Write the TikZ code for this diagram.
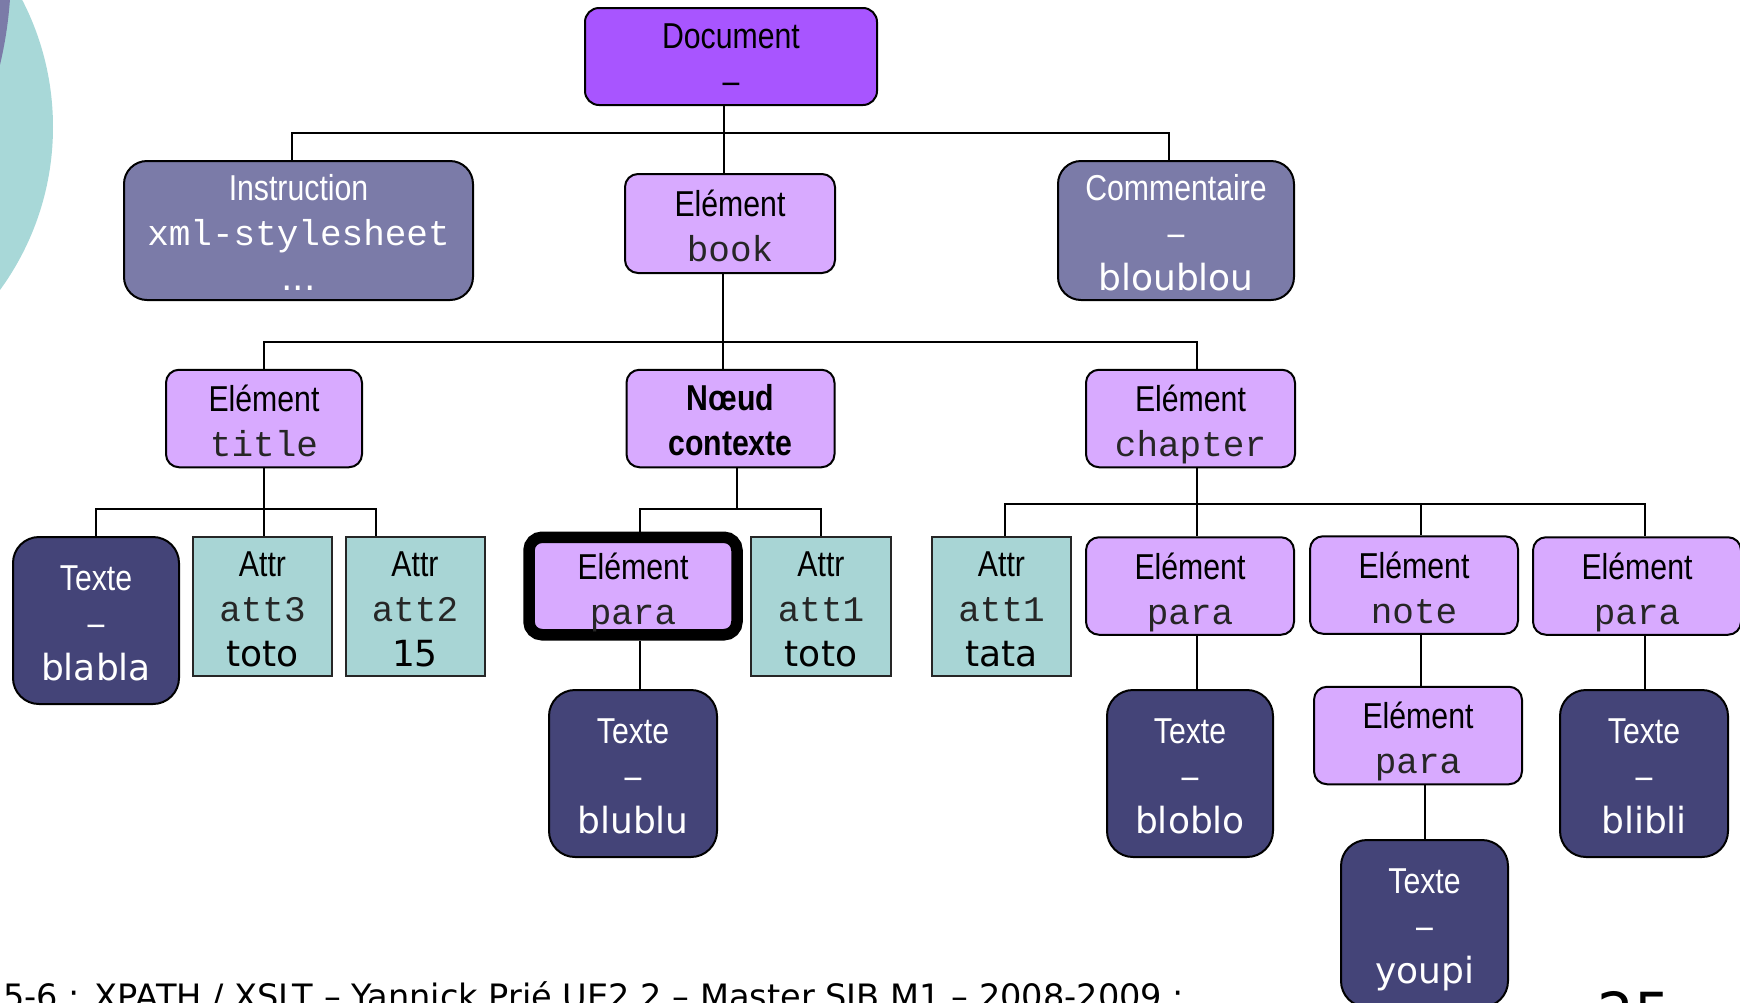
\documentclass[tikz,border=0pt]{standalone}
\usepackage{fontspec}
\setmainfont{DejaVu Sans}
\newfontfamily\nar[FakeStretch=0.84]{Liberation Sans}
\newfontfamily\mon{Liberation Mono}
\newfontfamily\ver{DejaVu Sans}
\definecolor{docc}{RGB}{168,85,255}
\definecolor{elemc}{RGB}{216,170,255}
\definecolor{insc}{RGB}{123,123,168}
\definecolor{txtc}{RGB}{68,68,120}
\definecolor{attrc}{RGB}{168,213,213}
\definecolor{tealc}{RGB}{168,216,216}
\begin{document}
\begin{tikzpicture}[x=0.5pt,y=-0.5pt,
  box/.style={draw=black, line width=1pt, inner sep=0pt, align=center, text depth=0pt,
    font=\fontsize{18}{22.5}\selectfont\nar},
  docbox/.style={box, fill=docc, rounded corners=7pt, minimum width=146pt, minimum height=48.5pt, text height=36.5pt},
  elem/.style={box, fill=elemc, rounded corners=6.5pt, minimum width=104pt, minimum height=48.75pt, text height=38pt},
  insbox/.style={box, fill=insc, text=white, rounded corners=11.5pt, minimum height=69.5pt, text height=59.5pt},
  txt/.style={box, fill=txtc, text=white, rounded corners=13pt, minimum width=83.5pt, minimum height=83.5pt, text height=59.5pt},
  attr/.style={box, fill=attrc, draw=black!85, minimum width=69.5pt, minimum height=69.5pt, text height=59.5pt},
  conn/.style={draw=black, line width=1pt}]
\useasboundingbox (0,0) rectangle (1740,1002);
\clip (0,0) rectangle (1740,1002);
% decoration
\fill[tealc] (-224,127) circle[radius=277];
\fill[insc] (-400,-30) circle[radius=411];
% level 0 / 1
\node[docbox] (doc) at (731,56.5) {Document\\–};
\node[insbox, minimum width=174.5pt] (instr) at (298.5,230.5) {Instruction\\{\mon xml-stylesheet}\\{\ver ...}};
\node[elem, minimum width=105pt, minimum height=49.5pt, text height=37.5pt] (book) at (730,223.5) {Elément\\{\color{black!85}\mon book}};
\node[insbox, minimum width=118pt] (comm) at (1176,230.5) {Commentaire\\–\\{\ver bloublou}};
% level 2
\node[elem, minimum width=98pt] (title) at (264,418.5) {Elément\\{\color{black!85}\mon title}};
\node[elem, text height=36.5pt, font=\fontsize{18}{22.5}\selectfont\nar\bfseries] (ctx) at (730.5,418.5) {Nœud\\contexte};
\node[elem, minimum width=104.5pt] (chap) at (1190.5,418.5) {Elément\\{\color{black!85}\mon chapter}};
% level 3
\node[txt, minimum width=83pt] (blabla) at (96,620.5) {Texte\\–\\{\ver blabla}};
\node[attr] (att3) at (262.5,606.5) {Attr\\{\color{black!85}\mon att3}\\{\ver toto}};
\node[attr] (att2) at (415,606.5) {Attr\\{\color{black!85}\mon att2}\\{\ver 15}};
\node[elem, line width=5.75pt] (para1) at (633,586) {Elément\\{\color{black!85}\mon para}};
\node[attr, minimum width=70pt] (att1a) at (821,606.5) {Attr\\{\color{black!85}\mon att1}\\{\ver toto}};
\node[attr] (tata) at (1001.5,606.5) {Attr\\{\color{black!85}\mon att1}\\{\ver tata}};
\node[elem] (para2) at (1190,586) {Elément\\{\color{black!85}\mon para}};
\node[elem] (note) at (1414,585) {Elément\\{\color{black!85}\mon note}};
\node[elem] (para3) at (1637,586) {Elément\\{\color{black!85}\mon para}};
% level 4
\node[txt, minimum width=84pt] (blublu) at (633,773.5) {Texte\\–\\{\ver blublu}};
\node[txt, minimum width=83pt] (bloblo) at (1190,773.5) {Texte\\–\\{\ver bloblo}};
\node[elem] (para4) at (1418,735.5) {Elément\\{\color{black!85}\mon para}};
\node[txt, minimum width=84pt] (blibli) at (1644,773.5) {Texte\\–\\{\ver blibli}};
\node[txt] (youpi) at (1424.5,923.5) {Texte\\–\\{\ver youpi}};
% footer
\node[anchor=base west, inner sep=0pt, font=\fontsize{16.8}{18}\selectfont\ver] (foot) at (3,1008)
  {5-6 : XPATH / XSLT – Yannick Prié UE2.2 – Master SIB M1 – 2008-2009 :};
\node[anchor=base west, inner sep=0pt, font=\fontsize{29}{31}\selectfont\ver] (pnum) at (1597,1034) {25};
% connectors
\coordinate (a0) at (723.5,133);
\coordinate (ai) at (292,133);
\coordinate (ac) at (1169,133);
\draw[conn] (doc.south -| a0) -- (book.north -| a0);
\draw[conn] (instr.north -| ai) -- (ai) -- (ac) -- (comm.north -| ac);
\coordinate (b0) at (723,342);
\coordinate (bt) at (264,342);
\coordinate (bc) at (1197,342);
\draw[conn] (book.south -| b0) -- (ctx.north -| b0);
\draw[conn] (title.north -| bt) -- (bt) -- (bc) -- (chap.north -| bc);
\coordinate (c0) at (264,509);
\coordinate (c1) at (96,509);
\coordinate (c2) at (376,509);
\draw[conn] (title.south -| c0) -- (att3.north -| c0);
\draw[conn] (blabla.north -| c1) -- (c1) -- (c2) -- (att2.north -| c2);
\coordinate (d0) at (737,509);
\coordinate (d1) at (640,509);
\coordinate (d2) at (821,509);
\draw[conn] (ctx.south -| d0) -- (d0);
\draw[conn] (para1.north -| d1) -- (d1) -- (d2) -- (att1a.north -| d2);
\draw[conn] (para1.south -| d1) -- (blublu.north -| d1);
\coordinate (e0) at (1197,504);
\coordinate (e1) at (1005,504);
\coordinate (e3) at (1421,504);
\coordinate (e4) at (1645,504);
\draw[conn] (chap.south -| e0) -- (para2.north -| e0);
\draw[conn] (tata.north -| e1) -- (e1) -- (e4) -- (para3.north -| e4);
\draw[conn] (e3) -- (note.north -| e3);
\draw[conn] (para2.south -| e0) -- (bloblo.north -| e0);
\coordinate (f0) at (1421,700);
\draw[conn] (note.south -| f0) -- (para4.north -| f0);
\coordinate (g0) at (1425,800);
\draw[conn] (para4.south -| g0) -- (youpi.north -| g0);
\draw[conn] (para3.south -| e4) -- (blibli.north -| e4);
\end{tikzpicture}
\end{document}
